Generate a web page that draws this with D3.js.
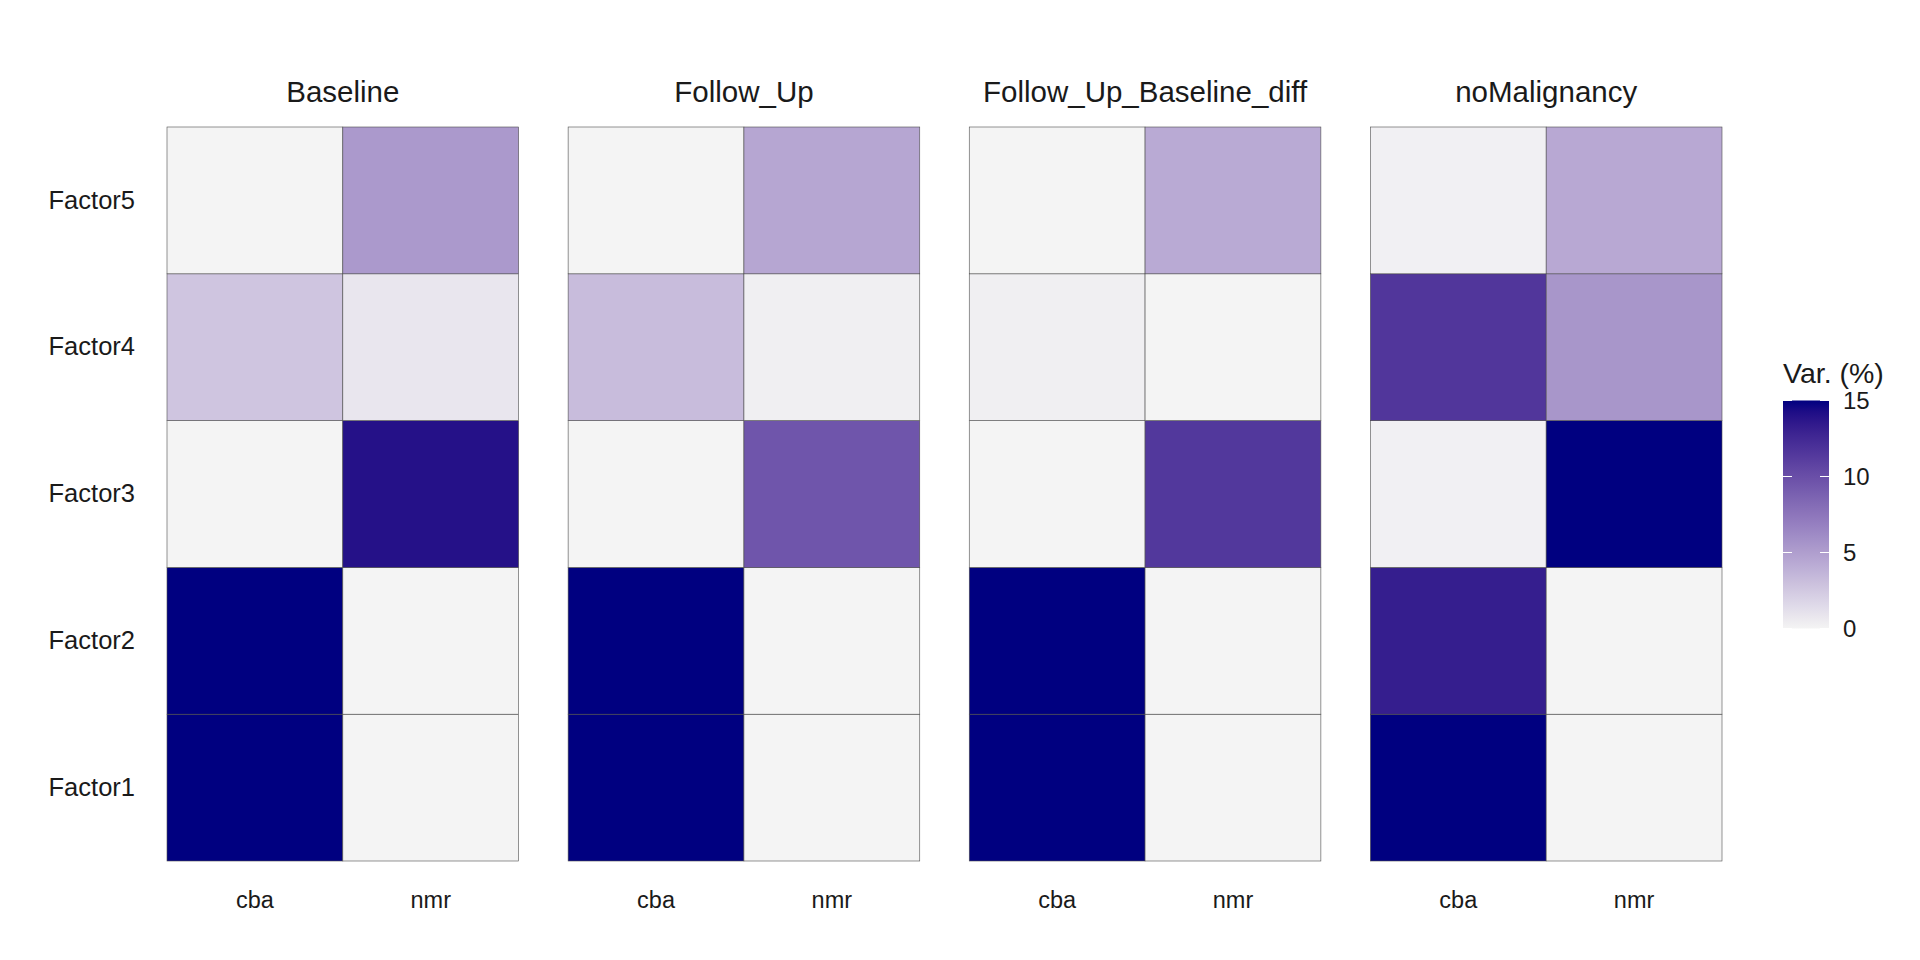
<!DOCTYPE html>
<html>
<head>
<meta charset="utf-8">
<script src="https://cdn.jsdelivr.net/npm/d3@7"></script>
<style>
  html, body { margin: 0; padding: 0; background: #fff; }
  svg { display: block; font-family: "Liberation Sans", Arial, sans-serif; }
</style>
</head>
<body>
<svg id="chart" width="1920" height="960"></svg>
<script>
// ---- data ----
const groups = ["Baseline", "Follow_Up", "Follow_Up_Baseline_diff", "noMalignancy"];
const views = ["cba", "nmr"];
const factors = ["Factor1", "Factor2", "Factor3", "Factor4", "Factor5"];
// variance explained (%) per group, per view, per factor (Factor1..Factor5)
const baselineCba = [15, 15, 0, 2.7, 0];
const baselineNmr = [0, 0, 14.0, 0.8, 5.3];
const followUpCba = [15, 15, 0, 3.2, 0];
const followUpNmr = [0, 0, 9.6, 0.3, 4.5];
const diffCba = [15, 15, 0, 0.3, 0];
const diffNmr = [0, 0, 11.5, 0, 4.3];
const noMalCba = [15, 13.2, 0.2, 11.6, 0.2];
const noMalNmr = [0, 0, 15, 5.5, 4.4];
const legendTicks = [0, 5, 10, 15];

const valuesByGroup = {
  "Baseline": { cba: baselineCba, nmr: baselineNmr },
  "Follow_Up": { cba: followUpCba, nmr: followUpNmr },
  "Follow_Up_Baseline_diff": { cba: diffCba, nmr: diffNmr },
  "noMalignancy": { cba: noMalCba, nmr: noMalNmr }
};
const cells = [];
groups.forEach(g => views.forEach(v => factors.forEach((f, i) => {
  cells.push({ group: g, view: v, factor: f, value: valuesByGroup[g][v][i] });
})));

// ---- layout ----
const svg = d3.select("#chart");
const panelLeft = 167, panelRightEnd = 1722, panelTop = 127, panelBottom = 861;
const gap = 49.5;

const gx = d3.scaleBand().domain(groups).range([panelLeft, panelRightEnd + gap]).paddingInner(0).paddingOuter(0);
const panelW = gx.bandwidth() - gap;
const y = d3.scaleBand().domain(factors.slice().reverse()).range([panelTop, panelBottom]);
const x = d3.scaleBand().domain(views).range([0, panelW]);

const color = d3.scaleLinear().domain([0, 15]).range(["#F4F4F4", "#000080"])
  .interpolate(d3.interpolateLab).clamp(true);

const fontFamily = "'Liberation Sans', Arial, sans-serif";

groups.forEach(g => {
  const gp = svg.append("g").attr("transform", `translate(${gx(g)},0)`);
  gp.selectAll("rect.cell")
    .data(cells.filter(c => c.group === g))
    .join("rect")
    .attr("class", "cell")
    .attr("x", d => x(d.view))
    .attr("y", d => y(d.factor))
    .attr("width", x.bandwidth())
    .attr("height", y.bandwidth())
    .attr("fill", d => color(d.value))
    .attr("stroke", "#4d4d4d")
    .attr("stroke-width", 0.6);

  // strip title
  gp.append("text")
    .attr("x", panelW / 2)
    .attr("y", 102)
    .attr("text-anchor", "middle")
    .attr("font-size", 29.5)
    .attr("fill", "#1a1a1a")
    .text(g);

  // x axis labels
  const xa = gp.append("g").attr("transform", `translate(0,${panelBottom})`)
    .call(d3.axisBottom(x).tickSize(0).tickPadding(30));
  xa.select(".domain").remove();
  xa.selectAll("text").attr("font-size", 23.5).attr("fill", "#1a1a1a").attr("font-family", fontFamily);
});

// y axis labels (left of first panel)
const ya = svg.append("g").attr("transform", `translate(${panelLeft},0)`)
  .call(d3.axisLeft(y).tickSize(0).tickPadding(32));
ya.select(".domain").remove();
ya.selectAll("text").attr("font-size", 25.5).attr("fill", "#1a1a1a").attr("font-family", fontFamily);

// ---- legend ----
const legX = 1783, legW = 46, legTop = 400.5, legBottom = 628.5;
const ly = d3.scaleLinear().domain([0, 15]).range([legBottom, legTop]);
const defs = svg.append("defs");
const grad = defs.append("linearGradient").attr("id", "lg").attr("x1", 0).attr("y1", 1).attr("x2", 0).attr("y2", 0);
d3.range(0, 21).forEach(i => {
  const v = 15 * i / 20;
  grad.append("stop").attr("offset", `${(i / 20) * 100}%`).attr("stop-color", color(v));
});
svg.append("rect").attr("x", legX).attr("y", legTop).attr("width", legW).attr("height", legBottom - legTop)
  .attr("fill", "url(#lg)");
svg.append("g").selectAll("g.tl").data(legendTicks).join("g").attr("class", "tl").each(function (t) {
  const gg = d3.select(this);
  gg.append("line").attr("x1", legX).attr("x2", legX + 9).attr("y1", ly(t)).attr("y2", ly(t))
    .attr("stroke", "#fff").attr("stroke-width", 1);
  gg.append("line").attr("x1", legX + legW - 9).attr("x2", legX + legW).attr("y1", ly(t)).attr("y2", ly(t))
    .attr("stroke", "#fff").attr("stroke-width", 1);
});
const lax = svg.append("g").attr("transform", `translate(${legX + legW},0)`)
  .call(d3.axisRight(ly).tickValues(legendTicks).tickSize(0).tickPadding(14).tickFormat(d3.format("d")));
lax.select(".domain").remove();
lax.selectAll("text").attr("font-size", 24).attr("fill", "#1a1a1a").attr("font-family", fontFamily);

svg.append("text").attr("x", legX).attr("y", 383).attr("font-size", 28.5).attr("fill", "#1a1a1a")
  .text("Var. (%)");
</script>
</body>
</html>
